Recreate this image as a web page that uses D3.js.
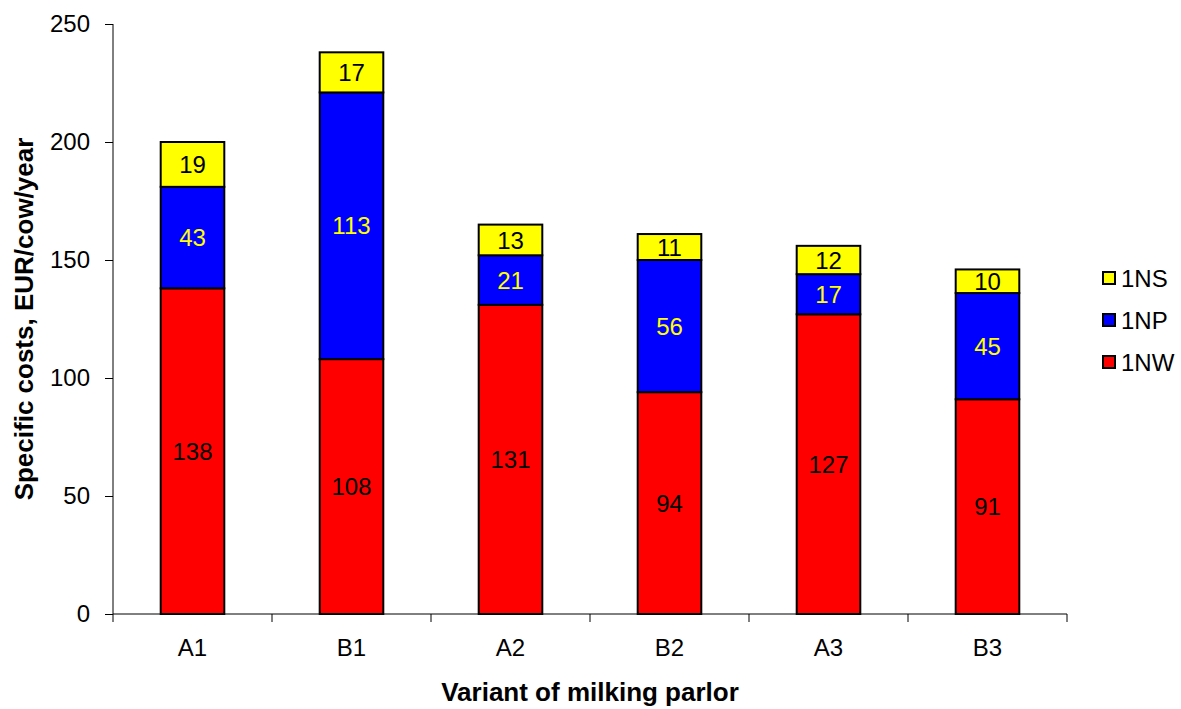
<!DOCTYPE html>
<html><head><meta charset="utf-8">
<script src="https://cdn.jsdelivr.net/npm/d3@7"></script>
<style>body{margin:0;background:#fff}svg{display:block;font-family:Arial,"Liberation Sans",sans-serif}</style>
</head><body>
<svg id="c" width="1181" height="709"></svg>
<script>
const categories = ["A1","B1","A2","B2","A3","B3"];
const seriesNames = ["1NW","1NP","1NS"];
const nw = [138,108,131,94,127,91];
const np = [43,113,21,56,17,45];
const ns = [19,17,13,11,12,10];
const yTicks = [0,50,100,150,200,250];
const colors = {"1NW":"#ff0000","1NP":"#0000ff","1NS":"#ffff00"};
const labelColors = {"1NW":"#000","1NP":"#ffff00","1NS":"#000"};

const rows = categories.map((c,i)=>({cat:c,"1NW":nw[i],"1NP":np[i],"1NS":ns[i]}));
const stack = d3.stack().keys(seriesNames)(rows);

const svg = d3.select("#c");
const x = d3.scaleBand().domain(categories).range([113,1067]).paddingInner(0.6).paddingOuter(0.3);
const y = d3.scaleLinear().domain([0,250]).range([614,24]);
const FS = 24;

// y axis
const ya = svg.append("g").attr("transform","translate(113,0)")
  .call(d3.axisLeft(y).tickValues(yTicks).tickSize(8).tickPadding(15));
ya.selectAll("text").attr("font-size",FS).attr("fill","#000").attr("font-family","Arial, 'Liberation Sans', sans-serif");
ya.selectAll("line,path").attr("stroke","#000");
ya.select(".domain").attr("d","M0,24V614");

// x axis (ticks at band boundaries)
const xa = svg.append("g").attr("transform","translate(0,614)");
xa.append("line").attr("x1",113).attr("x2",1067).attr("stroke","#000");
const step = (1067-113)/categories.length;
d3.range(categories.length+1).forEach(i=>{
  xa.append("line").attr("x1",113+i*step).attr("x2",113+i*step).attr("y1",0).attr("y2",8).attr("stroke","#000");
});
xa.selectAll("text.tl").data(categories).enter().append("text")
  .attr("x",d=>x(d)+x.bandwidth()/2).attr("y",42).attr("text-anchor","middle")
  .attr("font-size",FS).text(d=>d);

// bars
stack.forEach(s=>{
  const g = svg.append("g");
  g.selectAll("rect").data(s).enter().append("rect")
    .attr("x",d=>x(d.data.cat)).attr("width",x.bandwidth())
    .attr("y",d=>y(d[1])).attr("height",d=>y(d[0])-y(d[1]))
    .attr("fill",colors[s.key]).attr("stroke","#000").attr("stroke-width",2);
  g.selectAll("text").data(s).enter().append("text")
    .attr("x",d=>x(d.data.cat)+x.bandwidth()/2)
    .attr("y",d=>(y(d[0])+y(d[1]))/2).attr("dy","0.36em")
    .attr("text-anchor","middle").attr("font-size",FS)
    .attr("fill",labelColors[s.key]).text(d=>d.data[s.key]);
});

// legend
const legendOrder = ["1NS","1NP","1NW"];
const lg = svg.append("g");
legendOrder.forEach((k,i)=>{
  const cy = 278 + i*42;
  lg.append("rect").attr("x",1103).attr("y",cy-6).attr("width",12).attr("height",12)
    .attr("fill",colors[k]).attr("stroke","#000").attr("stroke-width",2);
  lg.append("text").attr("x",1121).attr("y",cy).attr("dy","0.36em").attr("font-size",FS).text(k);
});

// axis titles
svg.append("text").attr("transform","translate(33,319) rotate(-90)").attr("text-anchor","middle")
  .attr("font-size",26).attr("font-weight","bold").text("Specific costs, EUR/cow/year");
svg.append("text").attr("x",590).attr("y",701).attr("text-anchor","middle")
  .attr("font-size",26).attr("font-weight","bold").text("Variant of milking parlor");
</script>
</body></html>
